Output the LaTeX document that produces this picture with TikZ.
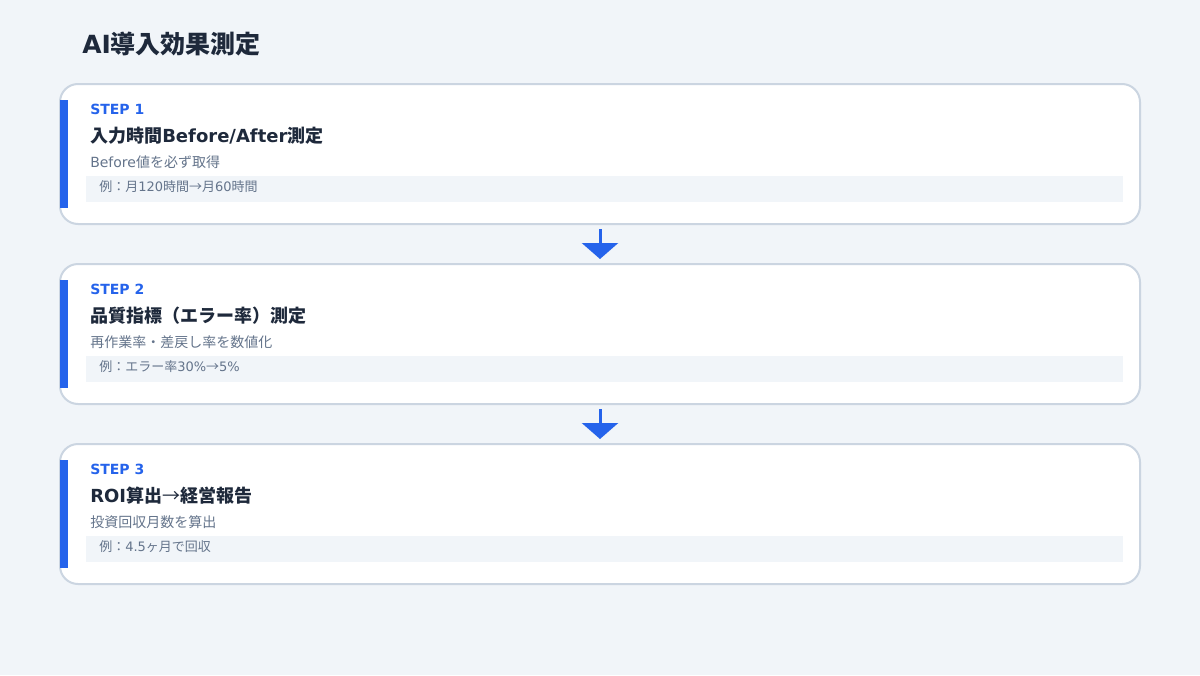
\documentclass[tikz,border=0pt]{standalone}
\usepackage{fontspec}
\setmainfont{Noto Sans CJK JP}
\newfontfamily\latin{DejaVu Sans}
\usetikzlibrary{arrows.meta,positioning}
\definecolor{bgcol}{HTML}{F1F5F9}
\definecolor{cardline}{HTML}{CBD5E1}
\definecolor{accentblue}{HTML}{2563EB}
\definecolor{darktext}{HTML}{1E293B}
\definecolor{graytext}{HTML}{64748B}
\newcommand{\lt}[1]{{\latin #1}}
\tikzset{
  card/.style={draw=cardline,line width=1.5pt,fill=white,rounded corners=13.5pt,
    minimum width=810pt,minimum height=105pt,inner sep=0pt},
  accentbar/.style={fill=accentblue,draw=none},
  examplebox/.style={fill=bgcol,draw=none},
  steplabel/.style={anchor=base west,inner sep=0pt,text=accentblue,
    font=\latin\bfseries\fontsize{10.5}{13}\selectfont},
  heading/.style={anchor=base west,inner sep=0pt,text=darktext,
    font=\bfseries\fontsize{13.5}{16}\selectfont},
  subline/.style={anchor=base west,inner sep=0pt,text=graytext,
    font=\fontsize{10.5}{13}\selectfont},
  exampleline/.style={anchor=base west,inner sep=0pt,text=graytext,
    font=\fontsize{9.75}{12}\selectfont},
  flowarrow/.style={draw=accentblue,line width=2.25pt,shorten <=3pt,shorten >=3pt,
    -{Triangle[width=27pt,length=12pt]}}
}
\begin{document}
\begin{tikzpicture}[x=0.75pt,y=-0.75pt]
  \useasboundingbox[fill=bgcol] (0,0) rectangle (1200,675);
  % Title
  \node[anchor=base west,inner sep=0pt,text=darktext,font=\bfseries\fontsize{18.75}{22}\selectfont]
    (title) at (82,53) {\lt{AI}導入効果測定};
  % Step 1
  \node[card] (card1) at (600,154) {};
  \fill[accentbar] (60,100) rectangle (68,208);
  \fill[examplebox] (86,176) rectangle (1123,202);
  \node[steplabel] (step1) at (90,114) {STEP 1};
  \node[heading] (head1) at (90,142) {入力時間\lt{Before/After}測定};
  \node[subline] (sub1) at (90,167) {\lt{Before}値を必ず取得};
  \node[exampleline] (ex1) at (99,191) {例：月\lt{120}時間→月\lt{60}時間};
  % Step 2
  \node[card] (card2) at (600,334) {};
  \fill[accentbar] (60,280) rectangle (68,388);
  \fill[examplebox] (86,356) rectangle (1123,382);
  \node[steplabel] (step2) at (90,294) {STEP 2};
  \node[heading] (head2) at (90,322) {品質指標（エラー率）測定};
  \node[subline] (sub2) at (90,347) {再作業率・差戻し率を数値化};
  \node[exampleline] (ex2) at (99,371) {例：エラー率\lt{30\%}→\lt{5\%}};
  % Step 3
  \node[card] (card3) at (600,514) {};
  \fill[accentbar] (60,460) rectangle (68,568);
  \fill[examplebox] (86,536) rectangle (1123,562);
  \node[steplabel] (step3) at (90,474) {STEP 3};
  \node[heading] (head3) at (90,502) {\lt{ROI}算出{\mdseries →}経営報告};
  \node[subline] (sub3) at (90,527) {投資回収月数を算出};
  \node[exampleline] (ex3) at (99,551) {例：\lt{4.5}ヶ月で回収};
  % Arrows
  \draw[flowarrow] (card1.south) -- (card2.north);
  \draw[flowarrow] (card2.south) -- (card3.north);
\end{tikzpicture}
\end{document}
